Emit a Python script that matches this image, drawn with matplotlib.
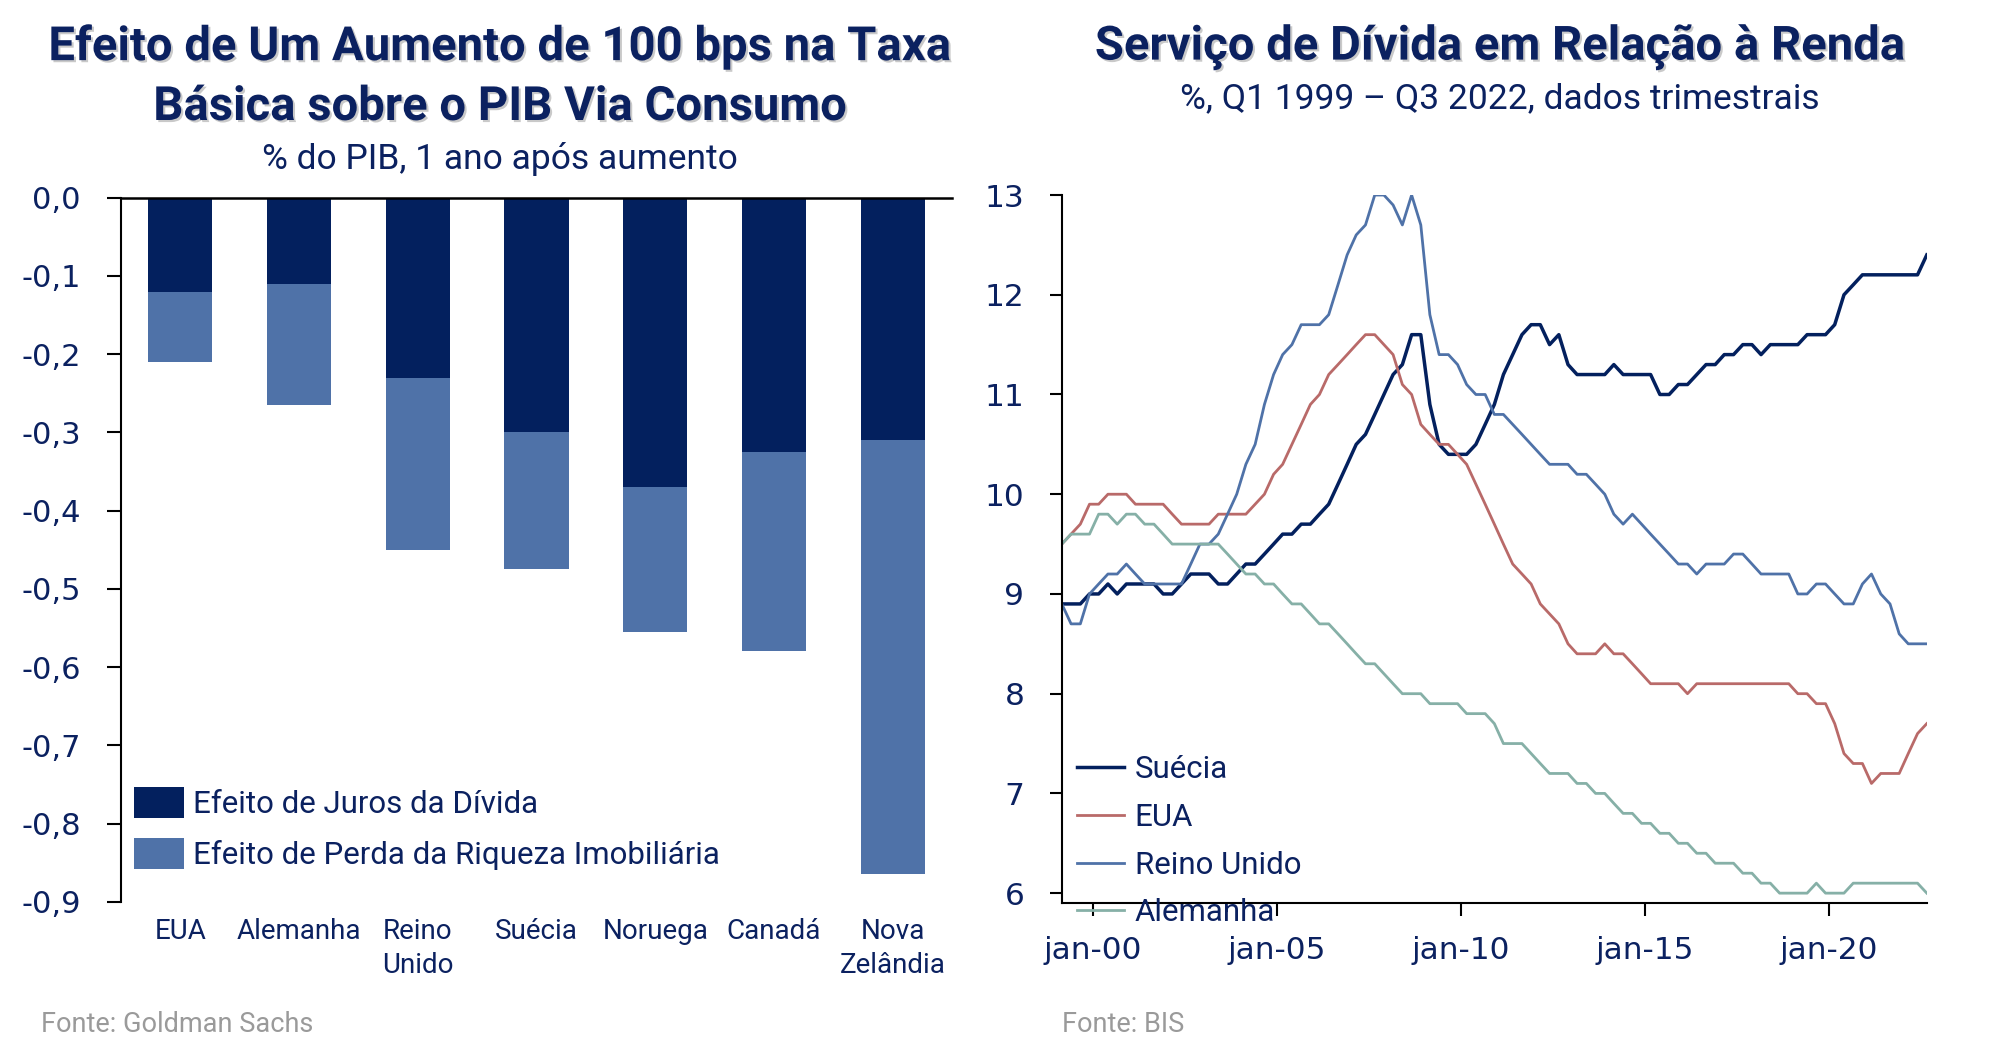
import matplotlib
matplotlib.use("Agg")
import matplotlib.pyplot as plt
import matplotlib.patheffects as pe
from matplotlib import font_manager
import pandas as pd

# fontes disponiveis
nomes = {f.name for f in font_manager.fontManager.ttflist}
base = "Roboto" if "Roboto" in nomes else "DejaVu Sans"
num = "DejaVu Sans"  # numeros dos eixos
plt.rcParams["font.family"] = [base, "DejaVu Sans"]

NAVY = "#0b2160"
AZUL_ESC = "#03205e"
AZUL_CLARO = "#4f72a8"
CINZA = "#9a9a9a"

# --- painel esquerdo: efeito de +100 bps sobre o PIB
paises = ["EUA", "Alemanha", "Reino\nUnido", "Suécia", "Noruega", "Canadá", "Nova\nZelândia"]
efeito_juros = [-0.12, -0.11, -0.23, -0.30, -0.37, -0.325, -0.31]
efeito_riqueza = [-0.09, -0.155, -0.22, -0.175, -0.185, -0.255, -0.555]
yticks_esq = [0.0, -0.1, -0.2, -0.3, -0.4, -0.5, -0.6, -0.7, -0.8, -0.9]

# --- painel direito: servico da divida / renda (%), Q1 1999 - Q3 2022
datas = pd.date_range("1999-03-01", "2022-09-01", freq="3MS")
suecia = [8.9, 8.9, 8.9, 9.0, 9.0, 9.1, 9.0, 9.1, 9.1, 9.1, 9.1, 9.0, 9.0, 9.1, 9.2, 9.2,
          9.2, 9.1, 9.1, 9.2, 9.3, 9.3, 9.4, 9.5, 9.6, 9.6, 9.7, 9.7, 9.8, 9.9, 10.1, 10.3,
          10.5, 10.6, 10.8, 11.0, 11.2, 11.3, 11.6, 11.6, 10.9, 10.5, 10.4, 10.4, 10.4, 10.5,
          10.7, 10.9, 11.2, 11.4, 11.6, 11.7, 11.7, 11.5, 11.6, 11.3, 11.2, 11.2, 11.2, 11.2,
          11.3, 11.2, 11.2, 11.2, 11.2, 11.0, 11.0, 11.1, 11.1, 11.2, 11.3, 11.3, 11.4, 11.4,
          11.5, 11.5, 11.4, 11.5, 11.5, 11.5, 11.5, 11.6, 11.6, 11.6, 11.7, 12.0, 12.1, 12.2,
          12.2, 12.2, 12.2, 12.2, 12.2, 12.2, 12.4]
eua = [9.5, 9.6, 9.7, 9.9, 9.9, 10.0, 10.0, 10.0, 9.9, 9.9, 9.9, 9.9, 9.8, 9.7, 9.7, 9.7,
       9.7, 9.8, 9.8, 9.8, 9.8, 9.9, 10.0, 10.2, 10.3, 10.5, 10.7, 10.9, 11.0, 11.2, 11.3,
       11.4, 11.5, 11.6, 11.6, 11.5, 11.4, 11.1, 11.0, 10.7, 10.6, 10.5, 10.5, 10.4, 10.3,
       10.1, 9.9, 9.7, 9.5, 9.3, 9.2, 9.1, 8.9, 8.8, 8.7, 8.5, 8.4, 8.4, 8.4, 8.5, 8.4, 8.4,
       8.3, 8.2, 8.1, 8.1, 8.1, 8.1, 8.0, 8.1, 8.1, 8.1, 8.1, 8.1, 8.1, 8.1, 8.1, 8.1, 8.1,
       8.1, 8.0, 8.0, 7.9, 7.9, 7.7, 7.4, 7.3, 7.3, 7.1, 7.2, 7.2, 7.2, 7.4, 7.6, 7.7]
reino_unido = [8.9, 8.7, 8.7, 9.0, 9.1, 9.2, 9.2, 9.3, 9.2, 9.1, 9.1, 9.1, 9.1, 9.1, 9.3,
               9.5, 9.5, 9.6, 9.8, 10.0, 10.3, 10.5, 10.9, 11.2, 11.4, 11.5, 11.7, 11.7,
               11.7, 11.8, 12.1, 12.4, 12.6, 12.7, 13.0, 13.0, 12.9, 12.7, 13.0, 12.7, 11.8,
               11.4, 11.4, 11.3, 11.1, 11.0, 11.0, 10.8, 10.8, 10.7, 10.6, 10.5, 10.4, 10.3,
               10.3, 10.3, 10.2, 10.2, 10.1, 10.0, 9.8, 9.7, 9.8, 9.7, 9.6, 9.5, 9.4, 9.3,
               9.3, 9.2, 9.3, 9.3, 9.3, 9.4, 9.4, 9.3, 9.2, 9.2, 9.2, 9.2, 9.0, 9.0, 9.1, 9.1,
               9.0, 8.9, 8.9, 9.1, 9.2, 9.0, 8.9, 8.6, 8.5, 8.5, 8.5]
alemanha = [9.5, 9.6, 9.6, 9.6, 9.8, 9.8, 9.7, 9.8, 9.8, 9.7, 9.7, 9.6, 9.5, 9.5, 9.5, 9.5,
            9.5, 9.5, 9.4, 9.3, 9.2, 9.2, 9.1, 9.1, 9.0, 8.9, 8.9, 8.8, 8.7, 8.7, 8.6, 8.5,
            8.4, 8.3, 8.3, 8.2, 8.1, 8.0, 8.0, 8.0, 7.9, 7.9, 7.9, 7.9, 7.8, 7.8, 7.8, 7.7,
            7.5, 7.5, 7.5, 7.4, 7.3, 7.2, 7.2, 7.2, 7.1, 7.1, 7.0, 7.0, 6.9, 6.8, 6.8, 6.7,
            6.7, 6.6, 6.6, 6.5, 6.5, 6.4, 6.4, 6.3, 6.3, 6.3, 6.2, 6.2, 6.1, 6.1, 6.0, 6.0,
            6.0, 6.0, 6.1, 6.0, 6.0, 6.0, 6.1, 6.1, 6.1, 6.1, 6.1, 6.1, 6.1, 6.1, 6.0]
series = [("Suécia", suecia, AZUL_ESC, 2.5),
          ("EUA", eua, "#b96a69", 2.0),
          ("Reino Unido", reino_unido, AZUL_CLARO, 2.0),
          ("Alemanha", alemanha, "#86b0a7", 2.0)]
anos_ticks = [2000, 2005, 2010, 2015, 2020]

sombra = [pe.withSimplePatchShadow(offset=(1.5, -1.5), shadow_rgbFace="#888888", alpha=0.45)]

fig = plt.figure(figsize=(20, 10.6), dpi=100)

# ---------------- esquerdo
ax1 = fig.add_axes([0.0605, 0.1493, 0.4155, 0.6642])
x = range(len(paises))
ax1.bar(x, efeito_juros, width=0.54, color=AZUL_ESC, label="Efeito de Juros da Dívida")
ax1.bar(x, efeito_riqueza, width=0.54, bottom=efeito_juros, color=AZUL_CLARO,
        label="Efeito de Perda da Riqueza Imobiliária")
ax1.set_xlim(-0.5, len(paises) - 0.5)
ax1.set_ylim(-0.9, 0)
ax1.set_yticks(yticks_esq)
ax1.set_yticklabels([f"{v:.1f}".replace(".", ",") for v in yticks_esq],
                    family=num, fontsize=22, color=NAVY)
ax1.set_xticks(list(x))
ax1.set_xticklabels(paises, fontsize=20, color=NAVY)
for lab in ax1.get_xticklabels():
    lab.set_linespacing(1.3)
ax1.tick_params(axis="x", length=0, pad=12)
ax1.tick_params(axis="y", length=10, width=1.5, pad=19)
for s in ["right", "bottom"]:
    ax1.spines[s].set_visible(False)
ax1.spines["left"].set_linewidth(1.5)
ax1.spines["top"].set_linewidth(1.8)
ax1.legend(loc="upper left", bbox_to_anchor=(0.0156, 0.163), frameon=False,
           borderpad=0, borderaxespad=0, handlelength=1.6, handleheight=1.15,
           handletextpad=0.3, labelspacing=0.6, fontsize=22.5, labelcolor=NAVY)

fig.text(0.25, 1 - 47 / 1060, "Efeito de Um Aumento de 100 bps na Taxa", ha="center",
         va="center", fontsize=34, fontweight="bold", color=NAVY, path_effects=sombra)
fig.text(0.25, 1 - 107 / 1060, "Básica sobre o PIB Via Consumo", ha="center",
         va="center", fontsize=34, fontweight="bold", color=NAVY, path_effects=sombra)
fig.text(0.25, 1 - 159 / 1060, "% do PIB, 1 ano após aumento", ha="center", va="center",
         fontsize=25.5, color=NAVY)
fig.text(41 / 2000, 1 - 1025 / 1060, "Fonte: Goldman Sachs", va="center", fontsize=19.5,
         color=CINZA)

# ---------------- direito
ax2 = fig.add_axes([0.5309, 0.148, 0.4325, 0.668])
for nome, vals, cor, lw in series:
    ax2.plot(datas, vals, color=cor, lw=lw, label=nome)
ax2.set_xlim(datas[0], datas[-1])
ax2.set_ylim(5.9, 13)
ax2.set_yticks(range(6, 14))
xt = [pd.Timestamp(f"{a}-01-01") for a in anos_ticks]
ax2.set_xticks(xt)
ax2.set_xticklabels([f"jan-{a % 100:02d}" for a in anos_ticks])
for lab in ax2.get_xticklabels() + ax2.get_yticklabels():
    lab.set_family(num)
ax2.tick_params(axis="both", length=9, width=1.5, labelsize=22.5, labelcolor=NAVY)
ax2.tick_params(axis="y", pad=18)
ax2.tick_params(axis="x", pad=15)
for s in ["right", "top"]:
    ax2.spines[s].set_visible(False)
ax2.spines["left"].set_linewidth(1.5)
ax2.spines["bottom"].set_linewidth(1.5)
ax2.legend(loc="upper left", bbox_to_anchor=(0.0173, 0.209), frameon=False,
           borderpad=0, borderaxespad=0, handlelength=1.5, handletextpad=0.35,
           labelspacing=0.6, fontsize=22.5, labelcolor=NAVY)

fig.text(0.75, 1 - 47 / 1060, "Serviço de Dívida em Relação à Renda", ha="center",
         va="center", fontsize=34, fontweight="bold", color=NAVY, path_effects=sombra)
fig.text(0.75, 1 - 99 / 1060, "%, Q1 1999 – Q3 2022, dados trimestrais", ha="center",
         va="center", fontsize=25.5, color=NAVY)
fig.text(1062 / 2000, 1 - 1025 / 1060, "Fonte: BIS", va="center", fontsize=19.5,
         color=CINZA)

fig.savefig("out.png", dpi=100)
